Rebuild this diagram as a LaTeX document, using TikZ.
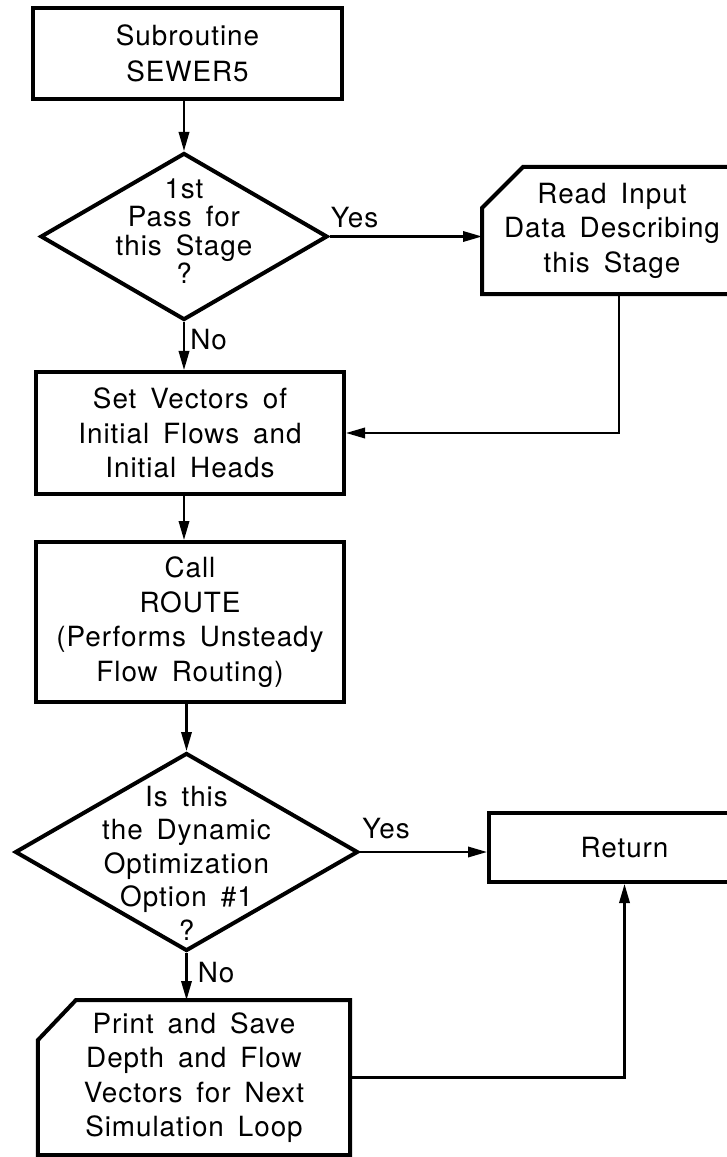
\documentclass[tikz,border=0pt]{standalone}
\usepackage{fontspec}
\setmainfont[LetterSpace=3.5, WordSpace=1.6]{TeX Gyre Heros}
\usetikzlibrary{arrows.meta,shapes.geometric}

\tikzset{
  box/.style={draw, line width=1mm, align=center, inner sep=0pt, minimum width=77mm},
  iobox/.style={box, draw=none},
  decision/.style={draw, diamond, line width=1mm, inner sep=0pt},
  flow/.style={line width=0.55mm, -{Triangle[length=4.75mm,width=2.6mm]}},
  lbl/.style={inner sep=0pt},
}

\begin{document}
\begin{tikzpicture}[x=0.25mm, y=-0.25mm, font=\fontsize{19.8}{24.5}\selectfont]
\useasboundingbox (0,0) rectangle (726,1157);

% main column
\node[box, minimum height=22.75mm, font=\fontsize{19.8}{26}\selectfont] (start) at (187.5,53.5) {Subroutine\\SEWER5};
\node[decision, minimum width=71.75mm, minimum height=41.75mm] (d1) at (184,236.5) {};
\node[align=center, font=\fontsize{19.8}{20.3}\selectfont] (d1txt) at (184,231) {1st\\Pass for\\this Stage\\?};
\node[box, minimum height=30.5mm] (setv) at (190,433) {Set Vectors of\\Initial Flows and\\Initial Heads};
\node[box, minimum height=40mm] (route) at (190,622) {Call\\ROUTE\\(Performs Unsteady\\Flow Routing)};
\node[decision, minimum width=85.75mm, minimum height=49.5mm] (d2) at (186.5,852) {};
\node[align=center, font=\fontsize{19.8}{23.8}\selectfont] (d2txt) at (186.5,863) {Is this\\the Dynamic\\Optimization\\Option \#1\\?};
\node[iobox, minimum height=37.75mm] (print) at (194,1077.5) {Print and Save\\Depth and Flow\\Vectors for Next\\Simulation Loop};

% right column
\node[iobox, minimum width=64mm, minimum height=30.75mm] (read) at (612,230.5) {Read Input\\Data Describing\\this Stage};
\node[box, minimum width=67.75mm, minimum height=17.25mm] (ret) at (624.5,847.5) {Return};

% cut corners of the input/output boxes
\draw[line width=1mm, line join=miter] ([yshift=-10.25mm]read.north west) -- ([xshift=10.25mm]read.north west)
  -- (read.north east) -- (read.south east) -- (read.south west) -- cycle;
\draw[line width=1mm, line join=miter] ([yshift=-10mm]print.north west) -- ([xshift=9.5mm]print.north west)
  -- (print.north east) -- (print.south east) -- (print.south west) -- cycle;

% branch labels
\node[lbl, anchor=base west] (yes1) at ([xshift=0.25mm,yshift=2.25mm]d1.east) {Yes};
\node[lbl, anchor=north west] (no1) at ([xshift=1.5mm,yshift=-1.75mm]d1.south) {No};
\node[lbl, anchor=base west] (yes2) at ([xshift=0.5mm,yshift=3.5mm]d2.east) {Yes};
\node[lbl, anchor=north west] (no2) at ([xshift=2.75mm,yshift=-2.25mm]d2.south) {No};

% connectors
\draw[flow] (d1.north |- start.south) -- (d1.north);
\draw[flow] (d1.south) -- (d1.south |- setv.north);
\draw[flow] (d1.east) -- (d1.east -| read.west);
\draw[flow] ([xshift=1.75mm]read.south) |- (setv.east);
\draw[flow] (d1.south |- setv.south) -- (d1.south |- route.north);
\draw[flow] (d2.north |- route.south) -- (d2.north);
\draw[flow] (d2.east) -- (d2.east -| ret.west);
\draw[flow] (d2.south) -- (d2.south |- print.north);
\draw[flow] (print.east) -| (ret.south);
\end{tikzpicture}
\end{document}
